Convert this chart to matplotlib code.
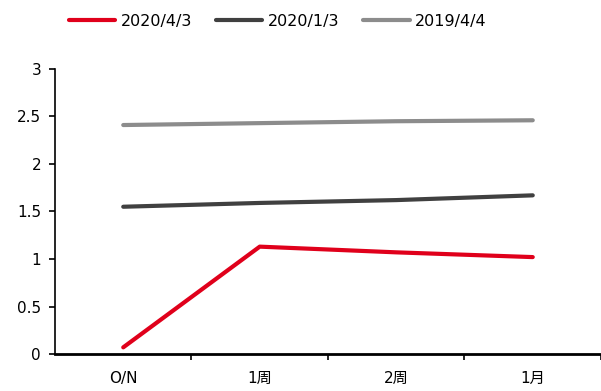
import matplotlib
matplotlib.use("Agg")
import matplotlib.pyplot as plt
import numpy as np

plt.rcParams['font.family'] = ['DejaVu Sans', 'Noto Sans CJK SC']

terms = ['O/N', '1周', '2周', '1月']
rate_20200403 = [0.07, 1.13, 1.07, 1.02]
rate_20200103 = [1.55, 1.59, 1.62, 1.67]
rate_20190404 = [2.41, 2.43, 2.45, 2.46]

fig = plt.figure(figsize=(6.01, 3.91), dpi=100)
ax = fig.add_axes([0.0915, 0.0946, 0.9085, 0.729])

x = np.arange(len(terms))
ax.plot(x, rate_20200403, color='#e0001b', lw=3, solid_capstyle='round', label='2020/4/3')
ax.plot(x, rate_20200103, color='#404040', lw=3, solid_capstyle='round', label='2020/1/3')
ax.plot(x, rate_20190404, color='#8c8c8c', lw=3, solid_capstyle='round', label='2019/4/4')

ax.set_xlim(-0.5, 3.5)
ax.set_ylim(0, 3)
ax.set_yticks(np.arange(0, 3.01, 0.5))
ax.set_yticklabels(['0', '0.5', '1', '1.5', '2', '2.5', '3'])
ax.set_xticks(x)
ax.set_xticklabels(terms)
ax.set_xticks([0.5, 1.5, 2.5, 3.5], minor=True)
ax.tick_params(axis='x', which='major', length=0, pad=12, labelsize=11)
ax.tick_params(axis='x', which='minor', length=4, width=1.2, direction='out')
ax.tick_params(axis='y', length=4, width=1.2, direction='out', labelsize=11, pad=6)

for s in ['top', 'right']:
    ax.spines[s].set_visible(False)
ax.spines['left'].set_linewidth(1.2)
ax.spines['bottom'].set_linewidth(2)

fig.legend(loc='center', bbox_to_anchor=(0.462, 0.945), ncol=3, frameon=False,
           fontsize=11.5, handlelength=2.9, handletextpad=0.35, columnspacing=1.5)

fig.savefig('out.png', dpi=100)
